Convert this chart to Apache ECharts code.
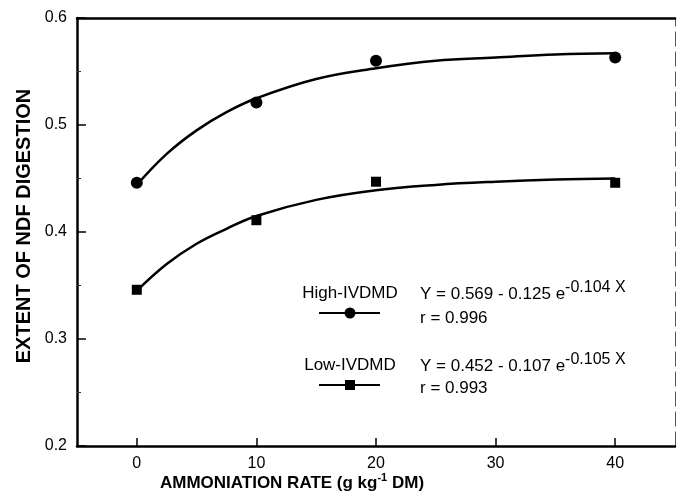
<!DOCTYPE html>
<html>
<head>
<meta charset="utf-8">
<script src="https://cdn.jsdelivr.net/npm/echarts@6/dist/echarts.min.js"></script>
<style>
html,body{margin:0;padding:0;background:#fff;}
#chart{width:677px;height:498px;}
</style>
</head>
<body>
<div id="chart"></div>
<script>
// Measured points (ammoniation rate, extent of NDF digestion)
var rates = [0, 10, 20, 40];
var highIVDMD = [0.446, 0.521, 0.560, 0.563];
var lowIVDMD = [0.346, 0.411, 0.447, 0.446];
// Fitted curves
var curveRates = [0, 2.5, 5, 7.5, 10, 15, 20, 25, 30, 35, 40];
var highCurve = [0.444, 0.473, 0.495, 0.512, 0.525, 0.543, 0.553, 0.560, 0.563, 0.566, 0.567];
var lowCurve = [0.345, 0.370, 0.389, 0.403, 0.415, 0.430, 0.439, 0.444, 0.447, 0.449, 0.450];
// Axis ticks
var xTicks = [0, 10, 20, 30, 40];
var xTitle = 'AMMONIATION RATE (g kg';
var yTitle = 'EXTENT OF NDF DIGESTION';
var seriesNames = ['High-IVDMD', 'Low-IVDMD'];
var equations = [['Y = 0.569 - 0.125 e', '-0.104 X', 'r = 0.996'], ['Y = 0.452 - 0.107 e', '-0.105 X', 'r = 0.993']];

function pairs(xs, ys) { return xs.map(function (x, i) { return [x, ys[i]]; }); }

var FONT = '"Liberation Sans", Arial, Helvetica, sans-serif';
var chart = echarts.init(document.getElementById('chart'), null, {renderer: 'canvas'});

function eqText(eq, x, y) {
  return {
    type: 'text', left: x, top: y,
    style: {
      text: '{m|' + eq[0] + '}{s|' + eq[1] + '}',
      rich: {
        m: {fontSize: 17, fontFamily: FONT, fill: '#000', lineHeight: 28},
        s: {fontSize: 16, fontFamily: FONT, fill: '#000', lineHeight: 16, verticalAlign: 'top'}
      }
    }
  };
}

var option = {
  backgroundColor: '#fff',
  animation: false,
  grid: {left: 77, right: 2, top: 18, bottom: 52, containLabel: false},
  xAxis: [{
    type: 'value', min: -5, max: 45,
    axisLine: {show: true, onZero: false, lineStyle: {color: '#000', width: 2.5}},
    axisTick: {show: true, inside: true, length: 8, customValues: xTicks, lineStyle: {color: '#000', width: 1.5}},
    axisLabel: {show: true, customValues: xTicks, fontSize: 16, fontFamily: FONT, color: '#000', margin: 10},
    splitLine: {show: false}
  }, {
    type: 'value', min: -5, max: 45, position: 'top',
    axisLine: {show: true, onZero: false, lineStyle: {color: '#000', width: 2.5}},
    axisTick: {show: false}, axisLabel: {show: false}, splitLine: {show: false}
  }],
  yAxis: [{
    type: 'value', min: 0.2, max: 0.6, interval: 0.1,
    axisLine: {show: true, onZero: false, lineStyle: {color: '#000', width: 2.5}},
    axisTick: {show: true, inside: true, length: 9, lineStyle: {color: '#000', width: 1.5}},
    minorTick: {show: true, splitNumber: 2, length: 4, lineStyle: {color: '#333', width: 1}},
    axisLabel: {fontSize: 16, fontFamily: FONT, color: '#000', margin: 10,
      formatter: function (v) { return v.toFixed(1); }},
    splitLine: {show: false}
  }, {
    type: 'value', min: 0.2, max: 0.6, position: 'right',
    axisLine: {show: true, onZero: false, lineStyle: {color: '#555', width: 1, type: [14, 6]}},
    axisTick: {show: false}, axisLabel: {show: false}, splitLine: {show: false}
  }],
  series: [{
    name: seriesNames[0] + ' fit', type: 'line', smooth: 0.4, showSymbol: false,
    data: pairs(curveRates, highCurve),
    lineStyle: {color: '#000', width: 2.5}
  }, {
    name: seriesNames[1] + ' fit', type: 'line', smooth: 0.4, showSymbol: false,
    data: pairs(curveRates, lowCurve),
    lineStyle: {color: '#000', width: 2.5}
  }, {
    name: seriesNames[0], type: 'scatter', symbol: 'circle', symbolSize: 12,
    data: pairs(rates, highIVDMD), itemStyle: {color: '#000', opacity: 1}, z: 5
  }, {
    name: seriesNames[1], type: 'scatter', symbol: 'rect', symbolSize: 10,
    data: pairs(rates, lowIVDMD), itemStyle: {color: '#000', opacity: 1}, z: 5
  }],
  graphic: [
    // axis titles
    {
      type: 'text', x: 292, y: 483,
      style: {
        text: '{m|' + xTitle + '}{s|-1}{m| DM)}',
        align: 'center', verticalAlign: 'middle',
        rich: {
          m: {fontSize: 17, fontWeight: 'bold', fontFamily: FONT, fill: '#000', lineHeight: 22},
          s: {fontSize: 11, fontWeight: 'bold', fontFamily: FONT, fill: '#000', lineHeight: 12, verticalAlign: 'top'}
        }
      }
    },
    {
      type: 'text', x: 24, y: 226, rotation: Math.PI / 2,
      style: {text: yTitle, align: 'center', verticalAlign: 'middle', fontSize: 20, fontWeight: 'bold', fontFamily: FONT, fill: '#000'}
    },
    // legend: High
    {type: 'text', x: 350, y: 293, style: {text: seriesNames[0], align: 'center', verticalAlign: 'middle', fontSize: 17, fontFamily: FONT, fill: '#000'}},
    {type: 'line', shape: {x1: 319, y1: 313, x2: 380, y2: 313}, style: {stroke: '#000', lineWidth: 1.8}},
    {type: 'circle', shape: {cx: 350, cy: 313, r: 5.5}, style: {fill: '#000'}},
    // legend: Low
    {type: 'text', x: 350, y: 365, style: {text: seriesNames[1], align: 'center', verticalAlign: 'middle', fontSize: 17, fontFamily: FONT, fill: '#000'}},
    {type: 'line', shape: {x1: 319, y1: 385, x2: 380, y2: 385}, style: {stroke: '#000', lineWidth: 1.8}},
    {type: 'rect', shape: {x: 345, y: 380, width: 10, height: 10}, style: {fill: '#000'}},
    // equations
    eqText(equations[0], 420, 280),
    {type: 'text', left: 420, top: 310, style: {text: equations[0][2], fontSize: 17, fontFamily: FONT, fill: '#000'}},
    eqText(equations[1], 420, 352),
    {type: 'text', left: 420, top: 380, style: {text: equations[1][2], fontSize: 17, fontFamily: FONT, fill: '#000'}}
  ]
};
chart.setOption(option);
</script>
</body>
</html>
